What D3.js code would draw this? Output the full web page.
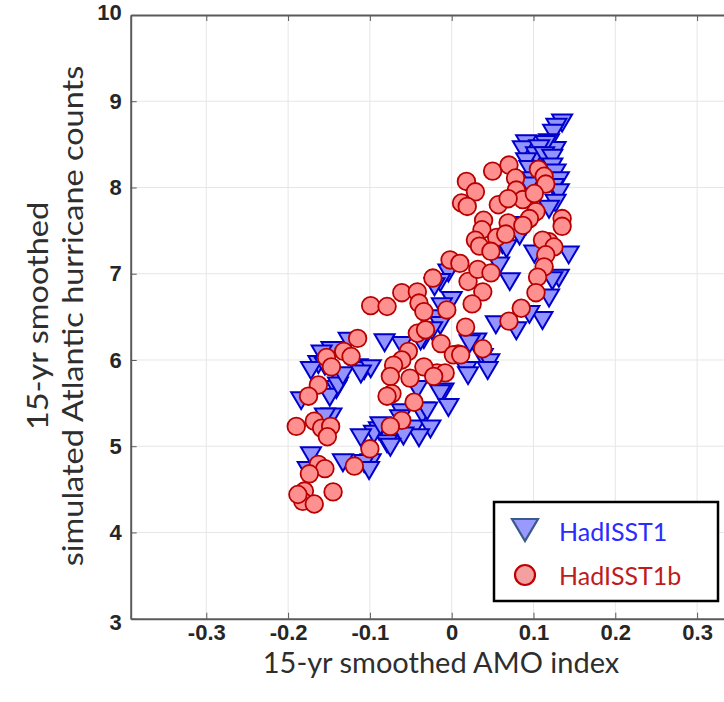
<!DOCTYPE html>
<html>
<head>
<meta charset="utf-8">
<script src="https://cdn.jsdelivr.net/npm/d3@7"></script>
<style>
  body { margin: 0; background: #fff; }
  svg { display: block; }
  .tick-label { font-family: "Liberation Sans", Arial, sans-serif; font-weight: bold; font-size: 22px; fill: #262626; }
  .title { font-family: Lato, "Open Sans", sans-serif; font-size: 29px; fill: #2e2e2e; }
  .legend-text { font-family: Lato, "Open Sans", sans-serif; font-size: 25px; }
</style>
</head>
<body>
<svg width="724" height="702"></svg>
<script>
// AMO index (x) and hurricane counts (y), HadISST1 run
const had1Amo = [
  0.135, 0.128, 0.124, 0.119, 0.127, 0.115, 0.091, 0.087, 0.107, 0.103,
  0.113, 0.123, 0.123, 0.127, 0.091, 0.095, 0.099, 0.131, 0.125, 0.131,
  0.127, 0.119, 0.095, 0.091, 0.083, 0.062, 0.101, 0.143, 0.067, 0.131,
  0.123, 0.119, 0.111, 0.095, 0.079, 0.054, 0.071, 0.058, -0.004, -0.014,
  -0.021, 0.000, -0.012, -0.018, -0.014, -0.024, -0.034, -0.038, -0.061, -0.082,
  0.030, 0.022, 0.038, 0.046, 0.018, 0.020, 0.044, -0.126, -0.147, -0.159,
  -0.163, -0.155, -0.172, -0.139, -0.141, -0.149, -0.184, -0.115, -0.107, -0.099,
  -0.010, -0.014, -0.004, -0.042, -0.034, -0.036, -0.046, -0.026, -0.040, -0.065,
  -0.059, -0.061, -0.089, -0.079, -0.095, -0.111, -0.099, -0.107, -0.133, -0.147,
  -0.155, -0.172, -0.176, -0.139, -0.133, -0.075, -0.101, -0.063, -0.030, -0.087,
  -0.111
]
const had1Count = [
  8.76, 8.71, 8.64, 8.53, 8.44, 8.51, 8.52, 8.45, 8.46, 8.38,
  8.38, 8.35, 8.25, 8.18, 8.31, 8.22, 8.09, 8.09, 8.01, 7.95,
  7.83, 7.76, 8.03, 7.57, 7.45, 7.35, 7.24, 7.23, 7.30, 6.96,
  6.93, 6.73, 6.47, 6.54, 6.35, 6.42, 6.92, 7.10, 7.02, 6.91,
  6.86, 6.70, 6.63, 6.49, 6.41, 6.35, 6.25, 6.23, 6.18, 6.21,
  6.22, 6.20, 6.04, 5.98, 5.89, 5.83, 5.89, 6.23, 6.12, 6.08,
  5.96, 5.94, 5.89, 5.81, 5.67, 5.58, 5.54, 5.92, 5.89, 5.91,
  5.64, 5.62, 5.46, 5.67, 5.42, 5.38, 5.21, 5.21, 5.11, 5.21,
  5.13, 5.40, 5.19, 5.04, 5.15, 5.11, 4.82, 4.81, 4.82, 5.35,
  5.35, 4.90, 4.73, 5.71, 5.83, 5.00, 4.73, 5.33, 5.42, 5.25,
  5.85
]

// HadISST1b run
const had1bAmo = [
  0.018, 0.029, 0.012, 0.019, 0.050, 0.070, 0.078, 0.106, 0.113, 0.115,
  0.079, 0.087, 0.101, 0.057, 0.069, 0.103, 0.135, 0.135, 0.069, 0.039,
  0.037, 0.055, 0.066, 0.095, 0.087, 0.029, 0.119, 0.111, 0.034, 0.048,
  0.125, 0.115, 0.113, 0.105, 0.103, -0.002, 0.010, 0.020, 0.032, 0.048,
  0.038, 0.025, -0.023, -0.006, 0.017, 0.085, 0.070, -0.013, 0.008, 0.038,
  -0.018, -0.008, -0.061, -0.042, -0.040, -0.034, -0.099, -0.079, -0.042, -0.032,
  -0.115, -0.132, -0.123, -0.153, -0.147, -0.163, -0.175, -0.190, -0.168, -0.159,
  -0.148, -0.152, -0.053, -0.061, -0.071, -0.075, -0.051, -0.034, -0.022, -0.073,
  -0.079, -0.046, -0.061, -0.075, -0.100, -0.119, -0.163, -0.155, -0.174, -0.180,
  -0.182, -0.168, -0.145, -0.188, 0.002, 0.011
]
const had1bCount = [
  8.07, 7.95, 7.82, 7.78, 8.19, 8.26, 8.11, 8.21, 8.13, 8.04,
  7.97, 7.86, 7.93, 7.80, 7.87, 7.72, 7.64, 7.55, 7.59, 7.62,
  7.51, 7.42, 7.46, 7.64, 7.56, 7.39, 7.37, 7.39, 7.32, 7.26,
  7.31, 7.22, 7.08, 6.96, 6.78, 7.16, 7.12, 6.91, 7.05, 7.01,
  6.79, 6.65, 6.95, 6.58, 6.38, 6.60, 6.45, 6.19, 6.07, 6.13,
  5.85, 5.85, 6.78, 6.79, 6.66, 6.56, 6.63, 6.62, 6.31, 6.35,
  6.25, 6.10, 6.04, 6.03, 5.92, 5.71, 5.58, 5.23, 5.29, 5.21,
  5.23, 5.11, 6.10, 6.00, 5.94, 5.81, 5.79, 5.92, 5.81, 5.61,
  5.58, 5.51, 5.30, 5.23, 4.97, 4.77, 4.79, 4.74, 4.68, 4.48,
  4.36, 4.33, 4.47, 4.44, 6.06, 6.06
]

const seriesNames = ["HadISST1", "HadISST1b"]
const xTicks = [-0.3, -0.2, -0.1, 0, 0.1, 0.2, 0.3]
const yTicks = [3, 4, 5, 6, 7, 8, 9, 10]

const svg = d3.select("svg")

const x = d3.scaleLinear()
  .domain([-0.3924, 0.4])
  .range([130.7, 778.9])

const y = d3.scaleLinear()
  .domain([3, 10])
  .range([618.7, 15])

// grid
svg.append("g")
  .selectAll("line")
  .data(xTicks)
  .enter()
  .append("line")
  .attr("x1", d => x(d)).attr("x2", d => x(d))
  .attr("y1", y(10)).attr("y2", y(3))
  .attr("stroke", "#e6e6e6")
  .attr("stroke-width", 1)

svg.append("g")
  .selectAll("line")
  .data(yTicks.slice(1, -1))
  .enter()
  .append("line")
  .attr("x1", x.range()[0]).attr("x2", x.range()[1])
  .attr("y1", d => y(d)).attr("y2", d => y(d))
  .attr("stroke", "#e6e6e6")
  .attr("stroke-width", 1)

// axes, ticks pointing inward
const xAxis = svg.append("g")
  .attr("transform", "translate(0," + y(3) + ")")
  .call(d3.axisBottom(x).tickValues(xTicks).tickSizeInner(-6).tickSizeOuter(0).tickPadding(6)
    .tickFormat(d => d === 0 ? "0" : d3.format(".1f")(d).replace("−", "-")))

const yAxis = svg.append("g")
  .attr("transform", "translate(" + x(-0.3924) + ",0)")
  .call(d3.axisLeft(y).tickValues(yTicks).tickSizeInner(-6).tickSizeOuter(0).tickPadding(9)
    .tickFormat(d3.format("d")))

const topAxis = svg.append("g")
  .attr("transform", "translate(0," + y(10) + ")")
  .call(d3.axisTop(x).tickValues(xTicks).tickSizeInner(-6).tickSizeOuter(0).tickFormat(""))

;[xAxis, yAxis, topAxis].forEach(g => {
  g.select(".domain").attr("stroke", "#5a5a5a").attr("stroke-width", 2)
  g.selectAll(".tick line").attr("stroke", "#5a5a5a").attr("stroke-width", 1)
  g.selectAll(".tick text").attr("class", "tick-label").attr("fill", null)
})
xAxis.selectAll(".tick text").attr("dy", "0.71em")
yAxis.selectAll(".tick").filter(d => d === 3).select("text").attr("dy", "0.5em")
yAxis.selectAll(".tick").filter(d => d === 10).select("text").attr("dy", "0.2em")

// markers
const triPath = "M-10,-7.5 L10,-7.5 L0,9.5 Z"

svg.append("g")
  .selectAll("path")
  .data(had1Amo.map((d, i) => [d, had1Count[i]]))
  .enter()
  .append("path")
  .attr("d", triPath)
  .attr("transform", d => "translate(" + x(d[0]) + "," + y(d[1]) + ")")
  .attr("fill", "#9494ff")
  .attr("stroke", "#0000cc")
  .attr("stroke-width", 2)
  .attr("stroke-linejoin", "miter")

svg.append("g")
  .selectAll("circle")
  .data(had1bAmo.map((d, i) => [d, had1bCount[i]]))
  .enter()
  .append("circle")
  .attr("cx", d => x(d[0]))
  .attr("cy", d => y(d[1]))
  .attr("r", 8.8)
  .attr("fill", "#ff9090")
  .attr("stroke", "#b80000")
  .attr("stroke-width", 1.8)

// titles
svg.append("text")
  .attr("class", "title")
  .attr("x", 441)
  .attr("y", 673)
  .attr("text-anchor", "middle")
  .text("15-yr smoothed AMO index")

// y title is a bit stretched along its length in the reference
const yTitle = svg.append("text")
  .attr("class", "title")
  .attr("text-anchor", "middle")
  .attr("transform", "translate(0,316) rotate(-90) scale(1.12,1)")
yTitle.append("tspan").attr("x", 0).attr("y", 48).text("15-yr smoothed")
yTitle.append("tspan").attr("x", 0).attr("y", 83).text("simulated Atlantic hurricane counts")

// legend
const legend = svg.append("g").attr("transform", "translate(494,502)")
legend.append("rect")
  .attr("width", 224)
  .attr("height", 99)
  .attr("fill", "#fff")
  .attr("stroke", "#000")
  .attr("stroke-width", 2.5)

legend.append("path")
  .attr("d", "M-13,-10 L13,-10 L0,12 Z")
  .attr("transform", "translate(31,27)")
  .attr("fill", "#9999ff")
  .attr("stroke", "#3b5a8c")
  .attr("stroke-width", 2.2)

legend.append("circle")
  .attr("cx", 31).attr("cy", 73).attr("r", 10)
  .attr("fill", "#f4a0a0")
  .attr("stroke", "#c00000")
  .attr("stroke-width", 2.2)

legend.selectAll("text")
  .data(seriesNames)
  .enter()
  .append("text")
  .attr("class", "legend-text")
  .attr("x", 65)
  .attr("y", (d, i) => 39 + i * 44)
  .attr("fill", (d, i) => i === 0 ? "#2b2bff" : "#c01a1a")
  .text(d => d)
</script>
</body>
</html>
